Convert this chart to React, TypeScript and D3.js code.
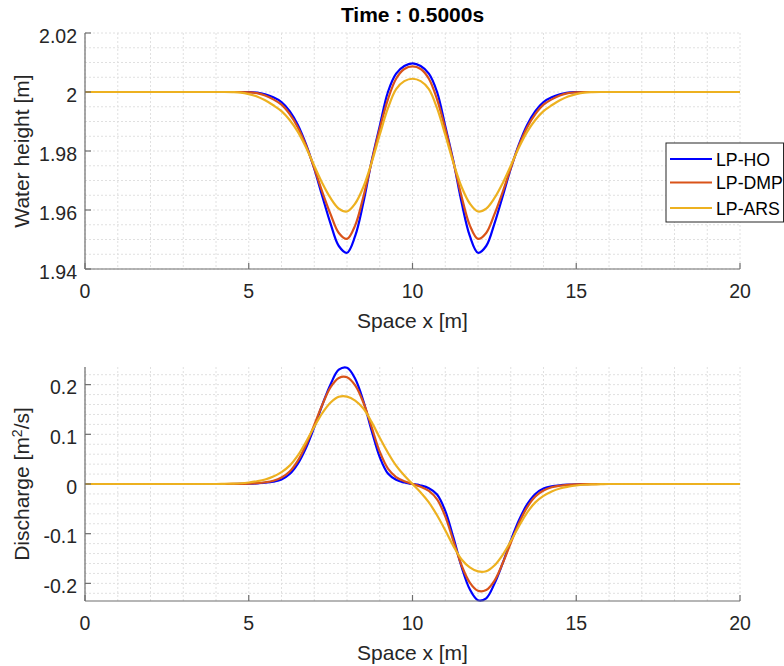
import React from "react";
import * as d3 from "d3";

const xs = [0,1,2,3,4,4.25,4.5,4.75,5,5.25,5.5,5.75,6,6.25,6.5,6.75,7,7.25,7.5,7.75,8,8.25,8.5,8.75,9,9.25,9.5,9.75,10,10.25,10.5,10.75,11,11.25,11.5,11.75,12,12.25,12.5,12.75,13,13.25,13.5,13.75,14,14.25,14.5,14.75,15,15.25,15.5,15.75,16,17,18,19,20];

const heightHO = [2,2,2,2, 2,2,2,2, 1.99995,1.9998,1.9992,1.9982, 1.9966,1.9935,1.9888,1.9822, 1.9740,1.9645,1.9553,1.9478, 1.9455,1.9512,1.9625,1.9765, 1.9885,2.0000,2.0062,2.0088, 2.0097, 2.0088,2.0062,2.0000,1.9885, 1.9765,1.9625,1.9512,1.9455, 1.9478,1.9553,1.9645,1.9740, 1.9822,1.9888,1.9935,1.9966, 1.9982,1.9992,1.9998,1.99995, 2,2,2,2, 2,2,2,2];
const heightDMP = [2,2,2,2, 2,2,2,2, 1.9999,1.9996,1.9988,1.9975, 1.9957,1.9925,1.9880,1.9818, 1.9742,1.9660,1.9585,1.9522, 1.9502,1.9548,1.9645,1.9762, 1.9875,1.9975,2.0045,2.0078, 2.0087, 2.0078,2.0045,1.9975,1.9875, 1.9762,1.9645,1.9548,1.9502, 1.9522,1.9585,1.9660,1.9742, 1.9818,1.9880,1.9925,1.9957, 1.9975,1.9988,1.9996,1.9999, 2,2,2,2, 2,2,2,2];
const heightARS = [2,2,2,2, 2,2,1.99995,1.9998, 1.9993,1.9985,1.9972,1.9955, 1.9935,1.9905,1.9865,1.9812, 1.9750,1.9690,1.9640,1.9605, 1.9595,1.9622,1.9678,1.9760, 1.9855,1.9945,2.0010,2.0037, 2.0045, 2.0037,2.0010,1.9945,1.9855, 1.9760,1.9678,1.9622,1.9595, 1.9605,1.9640,1.9690,1.9750, 1.9812,1.9865,1.9905,1.9935, 1.9955,1.9972,1.9985,1.9993, 1.9998,1.99995,2,2, 2,2,2,2];

const dischargeHO = [0,0,0,0, 0,0,0,0.0002, 0.0005,0.0012,0.0025,0.0048, 0.0090,0.0200,0.0410,0.0730, 0.1140,0.1600,0.2010,0.2300, 0.2340,0.2120,0.1670,0.1080, 0.0540,0.0210,0.0085,0.0030, 0, -0.0030,-0.0085,-0.0210,-0.0540, -0.1080,-0.1670,-0.2120,-0.2340, -0.2300,-0.2010,-0.1600,-0.1140, -0.0730,-0.0410,-0.0200,-0.0090, -0.0048,-0.0025,-0.0012,-0.0005, -0.0002,0,0,0, 0,0,0,0];
const dischargeDMP = [0,0,0,0, 0,0,0.0001,0.0003, 0.0008,0.0018,0.0035,0.0065, 0.0130,0.0250,0.0470,0.0790, 0.1190,0.1600,0.1950,0.2135, 0.2150,0.1985,0.1640,0.1150, 0.0650,0.0310,0.0140,0.0055, 0, -0.0055,-0.0140,-0.0310,-0.0650, -0.1150,-0.1640,-0.1985,-0.2150, -0.2135,-0.1950,-0.1600,-0.1190, -0.0790,-0.0470,-0.0250,-0.0130, -0.0065,-0.0035,-0.0018,-0.0008, -0.0003,-0.0001,0,0, 0,0,0,0];
const dischargeARS = [0,0,0,0, 0,0.0004,0.0008,0.0015, 0.0030,0.0055,0.0090,0.0150, 0.0240,0.0370,0.0575,0.0850, 0.1150,0.1430,0.1640,0.1755, 0.1760,0.1680,0.1520,0.1250, 0.0930,0.0630,0.0370,0.0170, 0, -0.0170,-0.0370,-0.0630,-0.0930, -0.1250,-0.1520,-0.1680,-0.1760, -0.1755,-0.1640,-0.1430,-0.1150, -0.0850,-0.0575,-0.0370,-0.0240, -0.0150,-0.0090,-0.0055,-0.0030, -0.0015,-0.0008,-0.0004,0, 0,0,0,0];

const seriesNames = ["LP-HO", "LP-DMP", "LP-ARS"];
const seriesColors = ["#0000ff", "#d95319", "#edb120"];

const xTicks = [0, 5, 10, 15, 20];
const xMinor = [1,2,3,4,6,7,8,9,11,12,13,14,16,17,18,19];
const hTicks = [1.94, 1.96, 1.98, 2, 2.02];
const hTickLabels = ["1.94", "1.96", "1.98", "2", "2.02"];
const qTicks = [-0.2, -0.1, 0, 0.1, 0.2];
const qTickLabels = ["-0.2", "-0.1", "0", "0.1", "0.2"];

const titleText = "Time : 0.5000s";
const xLabel = "Space x [m]";

const FONT = "'Liberation Sans', Arial, Helvetica, sans-serif";
const TXT = "#262626";
const GRID = "#e0e0e0";
const AXIS = "#6e6e6e";

const L = 85, R = 740;

type PanelProps = {
  top: number; bottom: number; domain: [number, number];
  ticks: number[]; tickLabels: string[]; minorStep: number;
  series: number[][]; yLabel: React.ReactNode;
};

function Panel({ top, bottom, domain, ticks, tickLabels, minorStep, series, yLabel }: PanelProps) {
  const x = d3.scaleLinear().domain([0, 20]).range([L, R]);
  const y = d3.scaleLinear().domain(domain).range([bottom, top]);
  const minorY: number[] = [];
  const start = Math.ceil(domain[0] / minorStep - 1e-9);
  const end = Math.floor(domain[1] / minorStep + 1e-9);
  for (let i = start; i <= end; i++) minorY.push(+(i * minorStep).toFixed(6));
  const line = d3.line<number>()
    .x((_, i) => x(xs[i]))
    .y((d) => y(d))
    .curve(d3.curveCatmullRom.alpha(0.5));
  return (
    <g>
      {[...xMinor, ...xTicks].map((v) => (
        <line key={"gx" + v} x1={x(v)} x2={x(v)} y1={top} y2={bottom}
          stroke={GRID} strokeWidth={1} strokeDasharray="2,2" />
      ))}
      {minorY.map((v) => (
        <line key={"gy" + v} x1={L} x2={R} y1={y(v)} y2={y(v)}
          stroke={GRID} strokeWidth={1} strokeDasharray="2,2" />
      ))}
      {series.map((s, i) => (
        <path key={i} d={line(s) || ""} fill="none" stroke={seriesColors[i]} strokeWidth={2.2} />
      ))}
      <line x1={L} x2={R} y1={bottom} y2={bottom} stroke={AXIS} strokeWidth={1.2} />
      <line x1={L} x2={L} y1={top} y2={bottom} stroke={AXIS} strokeWidth={1.2} />
      {xTicks.map((v) => (
        <g key={"xt" + v}>
          <line x1={x(v)} x2={x(v)} y1={bottom} y2={bottom - 6} stroke={AXIS} strokeWidth={1.2} />
          <text x={x(v)} y={bottom + 28.5} textAnchor="middle" fontSize={19.5} fill={TXT} fontFamily={FONT}>{v}</text>
        </g>
      ))}
      {ticks.map((v, i) => (
        <g key={"yt" + v}>
          <line x1={L} x2={L + 6} y1={y(v)} y2={y(v)} stroke={AXIS} strokeWidth={1.2} />
          <text x={77} y={y(v) + 9.5} textAnchor="end" fontSize={19.5} fill={TXT} fontFamily={FONT}>{tickLabels[i]}</text>
        </g>
      ))}
      <text x={(L + R) / 2} y={bottom + 59} textAnchor="middle" fontSize={21} fill={TXT} fontFamily={FONT}>{xLabel}</text>
      <text transform={`translate(29, ${(top + bottom) / 2}) rotate(-90)`} textAnchor="middle" fontSize={21} fill={TXT} fontFamily={FONT}>{yLabel}</text>
    </g>
  );
}

export default function App() {
  const legendY = [159, 182.5, 208];
  return (
    <div style={{ position: "absolute", left: 0, top: 0 }}>
      <svg width={784} height={666} style={{ display: "block", background: "#fff" }}>
        <rect x={0} y={0} width={784} height={666} fill="#fff" />
        <text x={(L + R) / 2} y={22} textAnchor="middle" fontSize={21} fontWeight="bold" fill="#000" fontFamily={FONT}>{titleText}</text>
        <Panel top={33} bottom={269} domain={[1.94, 2.02]} ticks={hTicks} tickLabels={hTickLabels}
          minorStep={0.005} series={[heightHO, heightDMP, heightARS]} yLabel="Water height [m]" />
        <Panel top={367} bottom={601} domain={[-0.2355, 0.2355]} ticks={qTicks} tickLabels={qTickLabels}
          minorStep={0.02} series={[dischargeHO, dischargeDMP, dischargeARS]}
          yLabel={<>Discharge [m<tspan dy={-7} fontSize={14}>2</tspan><tspan dy={7}>/s]</tspan></>} />
        <rect x={666} y={143} width={117.5} height={79} fill="#fff" stroke="#262626" strokeWidth={1} />
        {seriesNames.map((n, i) => (
          <g key={n}>
            <line x1={670} x2={712} y1={legendY[i]} y2={legendY[i]} stroke={seriesColors[i]} strokeWidth={2.2} />
            <text x={716} y={legendY[i] + 6.5} fontSize={17.7} fill="#000" fontFamily={FONT}>{n}</text>
          </g>
        ))}
      </svg>
    </div>
  );
}
